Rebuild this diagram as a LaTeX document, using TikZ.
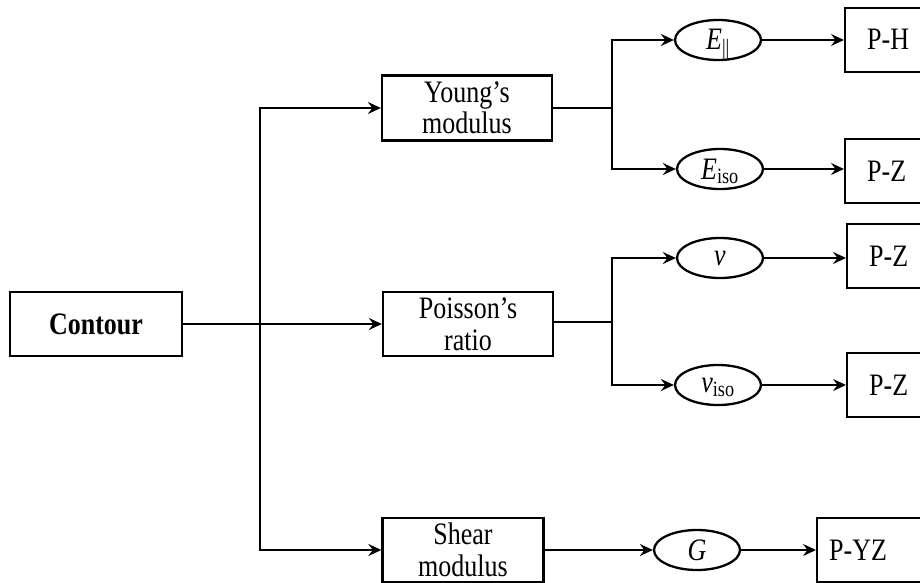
\documentclass[tikz,border=0pt]{standalone}
\usepackage{fontspec}
\setmainfont{Liberation Serif}
\usetikzlibrary{arrows.meta,shapes.geometric}
% slightly tall lettering, lowered by #1 so the ink sits on the node centre
\newcommand{\tallText}[2][10pt]{\raisebox{-#1}[0pt][0pt]{\scalebox{1}[1.2]{\begin{tabular}[b]{@{}c@{}}#2\end{tabular}}}}

\begin{document}
\begin{tikzpicture}[x=1pt,y=-1pt,
  box/.style={draw, rectangle, line width=2.3pt, inner sep=0pt, align=center,
              font=\fontsize{26}{26}\selectfont},
  val/.style={draw, ellipse, line width=2.3pt, minimum width=86pt, minimum height=40pt,
              inner sep=0pt, font=\fontsize{26}{26}\selectfont},
  res/.style={draw, rectangle, line width=2.3pt, anchor=west, minimum height=64pt,
              inner xsep=22pt, inner ysep=0pt, font=\fontsize{26}{27}\selectfont},
  link/.style={line width=2pt, -{Stealth[length=13pt,width=12pt,inset=4.5pt]}},
  wire/.style={line width=2pt}]

\useasboundingbox (0,0) rectangle (920,583);
\clip (0,0) rectangle (920,583);

% source and property boxes
\node[box, minimum width=172pt, minimum height=64pt] (contour) at (96,324) {\tallText{\textbf{Contour}}};
\node[box, minimum width=170pt, minimum height=65pt] (young) at (467,108) {\tallText[26pt]{Young's\\modulus}};
\node[box, minimum width=170pt, minimum height=64pt] (poisson) at (468,324) {\tallText[26pt]{Poisson's\\ratio}};
\node[box, minimum width=161pt, minimum height=64pt] (shear) at (463,550) {\tallText[26pt]{Shear\\modulus}};

% moduli
\node[val] (epar) at (718,40) {\tallText{\textit{E}\textsubscript{||}}};
\node[val] (eiso) at (720,169) {\tallText{\textit{E}\textsubscript{iso}}};
\node[val] (nu) at (720,258) {\tallText[7pt]{\textit{ν}}};
\node[val] (nuiso) at (718,385) {\tallText[7pt]{\textit{ν}\textsubscript{iso}}};
\node[val] (g) at (697,550) {\tallText{\textit{G}}};

% resulting models
\node[res] (ph) at (844,40) {\makebox[90pt][l]{\tallText{P-H}}};
\node[res] (pz1) at (844,171) {\makebox[90pt][l]{\tallText{P-Z}}};
\node[res] (pz2) at (846,256) {\makebox[90pt][l]{\tallText{P-Z}}};
\node[res] (pz3) at (846,385) {\makebox[90pt][l]{\tallText{P-Z}}};
\node[res, inner xsep=12pt] (pyz) at (816,550) {\makebox[110pt][l]{\tallText{P-YZ}}};

% branch points
\coordinate (trunk) at (260,324);
\coordinate (jy) at (612,108);
\coordinate (jp) at (612,322);

% connectors
\draw[link] (contour.east) -- (poisson.west);
\draw[link] (trunk) |- (young.west);
\draw[link] (trunk) |- (shear.west);

\draw[wire] (young.east) -- (jy);
\draw[link] (jy) |- (epar.west);
\draw[link] (jy) |- (eiso.west);

\draw[wire] (poisson.east |- jp) -- (jp);
\draw[link] (jp) |- (nu.west);
\draw[link] (jp) |- (nuiso.west);

\draw[link] (shear.east) -- (g.west);

\draw[link] (epar.east) -- (epar.east -| ph.west);
\draw[link] (eiso.east) -- (eiso.east -| pz1.west);
\draw[link] (nu.east) -- (nu.east -| pz2.west);
\draw[link] (nuiso.east) -- (nuiso.east -| pz3.west);
\draw[link] (g.east) -- (pyz.west);
\end{tikzpicture}
\end{document}
